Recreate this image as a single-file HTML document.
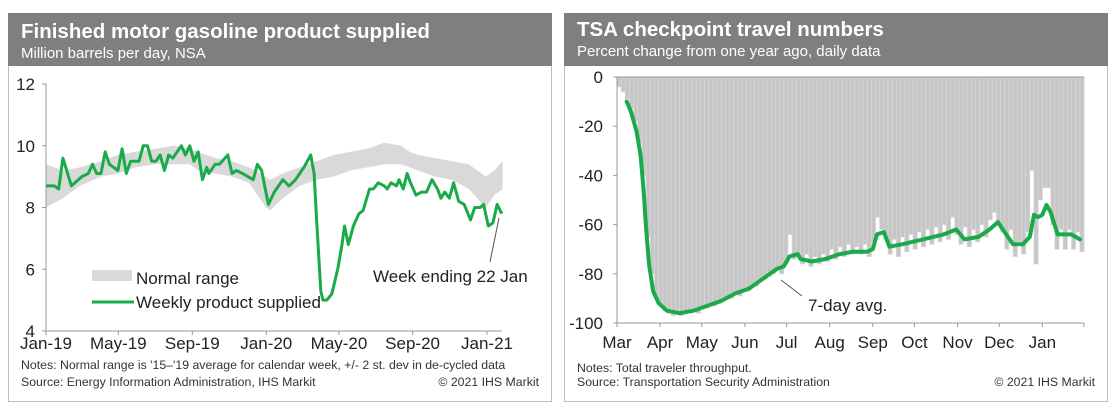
<!DOCTYPE html>
<html><head><meta charset="utf-8"><style>
body{margin:0;background:#fff;}
svg{display:block;font-family:"Liberation Sans",Arial,sans-serif;}
</style></head><body>
<svg id="root" width="1112" height="413" viewBox="0 0 1112 413" xmlns="http://www.w3.org/2000/svg">
<g>
<rect x="8.5" y="13.5" width="543" height="388" fill="#fff" stroke="#bdbdbd"/>
<rect x="8" y="13" width="544" height="53" fill="#7f7f7f"/>
<text x="21" y="38" fill="#fff" font-size="20.5" font-weight="bold">Finished motor gasoline product supplied</text>
<text x="21" y="58" fill="#fff" font-size="15">Million barrels per day, NSA</text>
<g id="gasChart"></g>
<text x="21" y="369" font-size="12.3" fill="#333">Notes: Normal range is '15–'19 average for calendar week, +/- 2 st. dev in de-cycled data</text>
<text x="21" y="386" font-size="12.3" fill="#333">Source: Energy Information Administration, IHS Markit</text>
<text x="539" y="386" font-size="12.3" fill="#333" text-anchor="end">© 2021 IHS Markit</text>
</g>
<g>
<rect x="564.5" y="13.5" width="543" height="388" fill="#fff" stroke="#bdbdbd"/>
<rect x="564" y="13" width="544" height="53" fill="#7f7f7f"/>
<text x="577" y="36" fill="#fff" font-size="20.5" font-weight="bold">TSA checkpoint travel numbers</text>
<text x="577" y="56" fill="#fff" font-size="15">Percent change from one year ago, daily data</text>
<g id="tsaChart"></g>
<text x="577" y="372" font-size="12.3" fill="#333">Notes: Total traveler throughput.</text>
<text x="577" y="386" font-size="12.3" fill="#333">Source: Transportation Security Administration</text>
<text x="1095" y="386" font-size="12.3" fill="#333" text-anchor="end">© 2021 IHS Markit</text>
</g>
</svg>
<script>
// ---- Gasoline data ----
const gasYTicks = [4, 6, 8, 10, 12];
const gasXLabels = ["Jan-19", "May-19", "Sep-19", "Jan-20", "May-20", "Sep-20", "Jan-21"];
const gasXLabelWeeks = [0, 17.1, 34.6, 52.1, 69.3, 86.7, 104.3];
const rangeWeeks = [0,4,8,13,17,21,26,30,34,36,40,44,48,52,53,56,60,64,68,72,76,80,84,86,88,92,96,100,104,106,108];
const rangeLow =  [8.0,8.3,8.7,9.0,9.1,9.3,9.4,9.4,9.4,9.2,9.1,9.0,8.8,8.0,7.9,8.3,8.7,8.9,9.0,9.2,9.3,9.4,9.4,9.3,9.2,9.0,8.9,8.6,8.0,8.4,8.6];
const rangeHigh = [9.4,9.2,9.3,9.5,9.7,9.8,9.9,10.0,9.9,9.8,9.6,9.5,9.3,9.0,8.9,9.1,9.3,9.5,9.7,9.8,9.9,10.1,10.0,9.8,9.7,9.6,9.5,9.4,9.0,9.2,9.5];
const supWeeks = [0,2,3,4,6,8.5,10,11,12,13,14,15,16,17,18,19,20,22,23,24,25,26,27,28,29,30,32,33,34,35,36,37,38,38.5,40,41,43,44,45,46.5,49,50,51,52.6,54,55,56,57.5,59,60,61,62.6,63.4,64,65,65.5,66.4,67.6,69,70,70.6,71.5,72.7,74,75,76.5,77.4,78.6,80,80.7,81.6,82.9,83.5,84.5,85.4,86.2,87.5,88.8,90,91.3,92.6,93.4,94.3,95.4,96.4,97.6,98.9,100.4,101.4,102.7,103.5,104.6,105.7,106.7,107.8];
const supVals = [8.7,8.7,8.6,9.6,8.7,9.0,9.1,9.4,9.1,9.1,9.8,9.4,9.3,9.2,9.9,9.1,9.5,9.5,10.0,10.0,9.5,9.5,9.7,9.2,9.7,9.6,10.0,9.7,10.0,9.5,9.8,8.9,9.3,9.1,9.4,9.4,9.7,9.1,9.2,9.1,8.9,9.4,9.2,8.1,8.5,8.7,8.9,8.7,8.9,9.1,9.3,9.7,9.1,7.6,5.3,5.0,5.0,5.2,6.0,6.8,7.4,6.8,7.4,7.8,7.9,8.6,8.6,8.8,8.7,8.6,8.8,8.7,8.9,8.6,9.1,8.8,8.4,8.5,8.5,8.9,8.6,8.3,8.5,8.3,8.8,8.2,8.1,7.6,8.0,8.0,8.1,7.4,7.5,8.1,7.8];

// ---- TSA data ----
const tsaYTicks = [0, -20, -40, -60, -80, -100];
const tsaMonths = ["Mar","Apr","May","Jun","Jul","Aug","Sep","Oct","Nov","Dec","Jan"];
const tsaMonthDays = [0,31,61,92,122,153,184,214,245,275,306];
const barDays = [0,3,6,9,12,15,18,21,24,27,30,33,36,39,42,45,48,51,54,57,60,63,66,69,72,75,78,81,84,87,90,93,96,99,102,105,108,111,114,117,120,123,126,129,132,135,138,141,144,147,150,153,156,159,162,165,168,171,174,177,180,183,186,189,192,195,198,201,204,207,210,213,216,219,222,225,228,231,234,237,240,243,246,249,252,255,258,261,264,267,270,273,276,279,282,285,288,291,294,297,300,303,306,309,312,315,318,321,324,327,330,333];
const barVals = [-4,-6,-9,-13,-18,-27,-40,-65,-80,-90,-93,-95,-96,-97,-96,-97,-96,-96,-95,-96,-94,-94,-93,-93,-92,-91,-90,-90,-88,-89,-87,-87,-85,-85,-83,-82,-81,-80,-78,-80,-76,-64,-74,-72,-76,-72,-77,-73,-76,-72,-75,-70,-74,-69,-73,-68,-72,-69,-72,-68,-73,-67,-57,-62,-66,-72,-66,-73,-65,-71,-64,-70,-63,-69,-62,-68,-61,-67,-60,-66,-57,-64,-68,-61,-69,-62,-67,-60,-65,-58,-55,-60,-63,-70,-62,-73,-67,-72,-63,-38,-76,-50,-45,-45,-60,-70,-62,-70,-62,-70,-63,-71];
const avgDays = [7,10,14,17,19,21,23,26,30,36,45,55,65,75,85,95,105,115,120,124,130,132,140,150,160,170,180,184,187,192,196,205,220,235,244,250,260,268,274,280,285,292,297,300,303,306,309,312,317,322,327,333];
const avgVals = [-10,-14,-22,-32,-45,-62,-76,-87,-92,-95,-96,-95,-93,-91,-88,-86,-82,-78,-77,-73,-72,-74,-75,-74,-72,-71,-71,-70,-64,-63,-69,-68,-66,-64,-62,-66,-65,-62,-59,-64,-68,-68,-65,-56,-57,-56,-52,-55,-64,-64,-64,-66];

const NS = "http://www.w3.org/2000/svg";
function mk(parent, tag, attrs) {
  const e = document.createElementNS(NS, tag);
  for (const k in attrs) e.setAttribute(k, attrs[k]);
  parent.appendChild(e);
  return e;
}

// ---- Gasoline chart ----
(function(){
  const g = document.getElementById('gasChart');
  const x = w => 46 + (w / 104.3) * 441;
  const y = v => 331 - (v - 4) / 8 * 247;
  // band
  let d = "";
  rangeWeeks.forEach((w,i)=>{ d += (i? "L":"M") + x(w).toFixed(1) + "," + y(rangeHigh[i]).toFixed(1); });
  for (let i = rangeWeeks.length-1; i>=0; i--) d += "L" + x(rangeWeeks[i]).toFixed(1) + "," + y(rangeLow[i]).toFixed(1);
  const band = mk(g,'path',{d:d+"Z",fill:"#d9d9d9"});
  
  
  // axes
  const ax = mk(g,'path',{d:`M46,${y(12)}V331H502`,stroke:"#999",fill:"none","stroke-width":1});
  
  
  gasYTicks.forEach(t=>{
    const tk = mk(g,'line',{x1:42,x2:46,y1:y(t),y2:y(t),stroke:"#999"});
    
    
    const tx = mk(g,'text',{x:35,y:y(t)+6,"text-anchor":"end","font-size":17,fill:"#222"});
    tx.textContent = t;
    
    
  });
  gasXLabels.forEach((l,i)=>{
    const xx = x(gasXLabelWeeks[i]);
    const tk = mk(g,'line',{x1:xx,x2:xx,y1:331,y2:335,stroke:"#999"});
    
    
    const tx = mk(g,'text',{x:xx,y:349,"text-anchor":"middle","font-size":17,fill:"#222"});
    tx.textContent = l;
    
    
  });
  let p = "";
  supWeeks.forEach((w,i)=>{ p += (i? "L":"M") + x(w).toFixed(1) + "," + y(supVals[i]).toFixed(1); });
  const ln = mk(g,'path',{d:p,fill:"none",stroke:"#1aaa4a","stroke-width":3,"stroke-linejoin":"round"});
  
  
  // legend
  const sw = mk(g,'rect',{x:92,y:270,width:40,height:11,fill:"#d9d9d9"});
  
  
  const t1 = mk(g,'text',{x:136,y:284,"font-size":17,fill:"#222"});
  t1.textContent = "Normal range";
  
  
  const sl = mk(g,'line',{x1:92,x2:134,y1:302,y2:302,stroke:"#1aaa4a","stroke-width":3});
  
  
  const t2 = mk(g,'text',{x:136,y:308,"font-size":17,fill:"#222"});
  t2.textContent = "Weekly product supplied";
  
  
  const ld = mk(g,'line',{x1:490,y1:262,x2:499,y2:218,stroke:"#555","stroke-width":1});
  
  
  const an = mk(g,'text',{x:373,y:282,"font-size":17,fill:"#222"});
  an.textContent = "Week ending 22 Jan";
  
  
})();

// ---- TSA chart ----
(function(){
  const g = document.getElementById('tsaChart');
  const x = dday => 617 + dday * 1.39;
  const y = v => 77 - v / 100 * 246;
  barDays.forEach((dd,i)=>{
    const x0 = x(dd), w = 3*1.39;
    const b = mk(g,'rect',{x:x0.toFixed(2),y:y(0),width:w.toFixed(2),height:(y(barVals[i])-y(0)).toFixed(2),fill:"#c6c6c6",stroke:"#d6d6d6","stroke-width":0.8});
    
    
  });
  const ax = mk(g,'path',{d:`M617,77V323H1084`,stroke:"#999",fill:"none"});
  
  
  const top = mk(g,'line',{x1:617,x2:1084,y1:77,y2:77,stroke:"#999"});
  
  
  tsaYTicks.forEach(t=>{
    const tk = mk(g,'line',{x1:613,x2:617,y1:y(t),y2:y(t),stroke:"#999"});
    
    
    const tx = mk(g,'text',{x:603,y:y(t)+6,"text-anchor":"end","font-size":17,fill:"#222"});
    tx.textContent = t;
    
    
  });
  tsaMonths.forEach((m,i)=>{
    const xx = x(tsaMonthDays[i]);
    const tk = mk(g,'line',{x1:xx,x2:xx,y1:323,y2:327,stroke:"#999"});
    
    
    const tx = mk(g,'text',{x:xx,y:348,"text-anchor":"middle","font-size":17,fill:"#222"});
    tx.textContent = m;
    
    
  });
  const endTk = mk(g,'line',{x1:1084,x2:1084,y1:323,y2:327,stroke:"#999"});
  
  
  let p = "";
  avgDays.forEach((dd,i)=>{ p += (i? "L":"M") + x(dd).toFixed(1) + "," + y(avgVals[i]).toFixed(1); });
  const ln = mk(g,'path',{d:p,fill:"none",stroke:"#1aaa4a","stroke-width":4,"stroke-linejoin":"round","stroke-linecap":"round"});
  
  
  const ld = mk(g,'line',{x1:781,y1:280,x2:802,y2:296,stroke:"#555"});
  
  
  const an = mk(g,'text',{x:808,y:311,"font-size":17,fill:"#222"});
  an.textContent = "7-day avg.";
  
  
})();
</script>
</body></html>
